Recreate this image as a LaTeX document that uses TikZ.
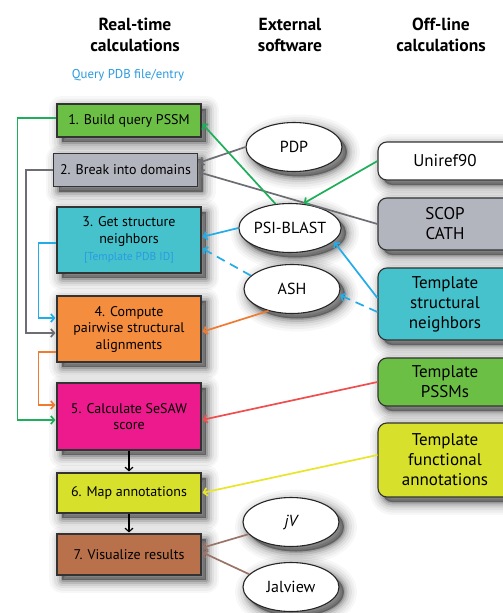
\documentclass[tikz,border=0pt]{standalone}
\usepackage{fontspec}
\setmainfont{PT Sans}
\usetikzlibrary{arrows.meta,shapes.geometric,shadows}
\definecolor{cgreen}{HTML}{6CBF45}
\definecolor{cgray}{HTML}{B3B5BE}
\definecolor{ccyan}{HTML}{45C2CC}
\definecolor{corange}{HTML}{F58D3F}
\definecolor{cmag}{HTML}{EC1A8C}
\definecolor{cyel}{HTML}{D7E02A}
\definecolor{cbrown}{HTML}{B8714B}
\definecolor{lgreen}{HTML}{1FAE5A}
\definecolor{lgray}{HTML}{6D6E73}
\definecolor{lblue}{HTML}{22ACE8}
\definecolor{lorange}{HTML}{F07A30}
\definecolor{lred}{HTML}{F04E4E}
\definecolor{lyel}{HTML}{E8E62A}
\definecolor{lbrown}{HTML}{9A7468}
\definecolor{qblue}{HTML}{2A9BE0}
\tikzset{
  shlayer/.style 2 args={general shadow={fill=black,draw=black,line join=round,line width=#1,opacity=#2,shadow xshift=5pt,shadow yshift=-5pt}},
  shad/.style={shlayer={26pt}{0.03},shlayer={21pt}{0.04},shlayer={16pt}{0.05},shlayer={11pt}{0.07},shlayer={7pt}{0.1},shlayer={3pt}{0.14}},
  stepbox/.style={draw=black!80,line width=1.1pt,minimum width=144pt,align=center,font=\fontsize{14}{16.5}\selectfont,shad,inner sep=2pt},
  soft/.style={ellipse,draw=black!85,line width=1.1pt,fill=white,minimum width=96pt,minimum height=49pt,font=\fontsize{16}{18}\selectfont,shad,inner sep=0pt},
  dbbox/.style={draw=black!80,line width=1.1pt,rounded corners=9pt,minimum width=134pt,align=center,font=\fontsize{17}{20}\selectfont,shad,inner sep=2pt},
  title/.style={align=center,font=\bfseries\fontsize{17.5}{21}\selectfont},
  conn/.style={line width=1.7pt,-{Straight Barb[length=3.5pt,width=8pt]},shorten >=1pt},
}
\begin{document}
\begin{tikzpicture}[x=1pt,y=-1pt]
\useasboundingbox (0,0) rectangle (503,613);
\clip (0,0) rectangle (503,613);
\fill[white] (0,0) rectangle (503,613);
% titles
\node[title] (t1) at (135,35) {Real-time\\calculations};
\node[title] (t2) at (290,35) {External\\software};
\node[title] (t3) at (441,35) {Off-line\\calculations};
\node[text=qblue,font=\fontsize{12.8}{15}\selectfont] (q) at (128,75) {Query PDB file/entry};
% left boxes
\node[stepbox,fill=cgreen,minimum height=33pt] (b1) at (129,120.5) {1. Build query PSSM};
\node[stepbox,fill=cgray,minimum height=33pt] (b2) at (125.5,170) {2. Break into domains};
\node[stepbox,fill=ccyan,minimum height=66pt] (b3) at (129,240) {3. Get structure\\neighbors\\[1pt]{\fontsize{11.5}{13}\selectfont\color{qblue}[Template PDB ID]}};
\node[stepbox,fill=corange,minimum height=66pt] (b4) at (129,329) {4. Compute\\pairwise structural\\alignments};
\node[stepbox,fill=cmag,minimum height=67pt] (b5) at (129,416.5) {5. Calculate SeSAW\\score};
\node[stepbox,fill=cyel,minimum height=40pt] (b6) at (129,493) {6. Map annotations};
\node[stepbox,fill=cbrown,minimum height=41pt] (b7) at (129,554.5) {7. Visualize results};
% ellipses
\node[soft] (pdp) at (294,147) {PDP};
\node[soft] (psi) at (290,228) {PSI-BLAST};
\node[soft] (ash) at (292,289) {ASH};
\node[soft] (jv) at (291,522) {\itshape jV};
\node[soft] (jal) at (291,587) {Jalview};
% right boxes
\node[dbbox,fill=white,minimum height=38pt] (uni) at (445,161) {Uniref90};
\node[dbbox,fill=cgray,minimum height=52pt] (scop) at (445,224) {SCOP\\CATH};
\node[dbbox,fill=ccyan,minimum height=72pt] (tsn) at (445,304) {Template\\structural\\neighbors};
\node[dbbox,fill=cgreen,minimum height=48pt] (pssm) at (445,382) {Template\\PSSMs};
\node[dbbox,fill=cyel,minimum height=74pt] (tfa) at (445,460) {Template\\functional\\annotations};
% middle connectors
\draw[conn,lgray] (pdp.west) -- ([yshift=7pt]b2.east);
\draw[conn,lgray] (scop.west) -- ([yshift=-2pt]b2.east);
\draw[conn,lgreen] (psi.121) -- ([yshift=-2.5pt]b1.east);
\draw[conn,lgreen] (uni.west) -- (psi.62);
\draw[conn,lblue] (psi.west) -- ([yshift=3pt]b3.east);
\draw[conn,lblue,dash pattern=on 9pt off 6pt] (ash.162) -- ([yshift=-8pt]b3.east);
\draw[conn,lblue] ([yshift=6pt]tsn.west) -- (psi.343);
\draw[conn,lblue,dash pattern=on 9pt off 6pt] ([yshift=-8pt]tsn.west) -- (ash.353);
\draw[conn,lorange] (ash.223) -- ([yshift=-3pt]b4.east);
\draw[conn,lred] (pssm.west) -- ([yshift=-3.5pt]b5.east);
\draw[conn,lyel] ([yshift=5pt]tfa.west) -- (b6.east);
\draw[conn,lbrown] (jv.196) -- ([yshift=6.5pt]b7.east);
\draw[conn,lbrown] (jal.163) -- ([yshift=2.5pt]b7.east);
\draw[conn,black,line width=1.2pt] (b5.south) -- (b6.north);
\draw[conn,black,line width=1.2pt] (b6.south) -- (b7.north);
% left connectors
\draw[conn,lgreen] ([yshift=2.5pt]b1.west) -- ++(-39,0) |- ([yshift=-3.5pt]b5.west);
\draw[conn,lgray] (b2.west) -- ++(-27,0) |- ([yshift=-4pt]b4.west);
\draw[conn,lblue] ([yshift=-3pt]b3.west) -- ++(-18,0) |- ([yshift=11pt]b4.west);
\draw[conn,lorange] ([yshift=-23pt]b4.west) -- ++(-18,0) |- ([yshift=11.5pt]b5.west);
\end{tikzpicture}
\end{document}
